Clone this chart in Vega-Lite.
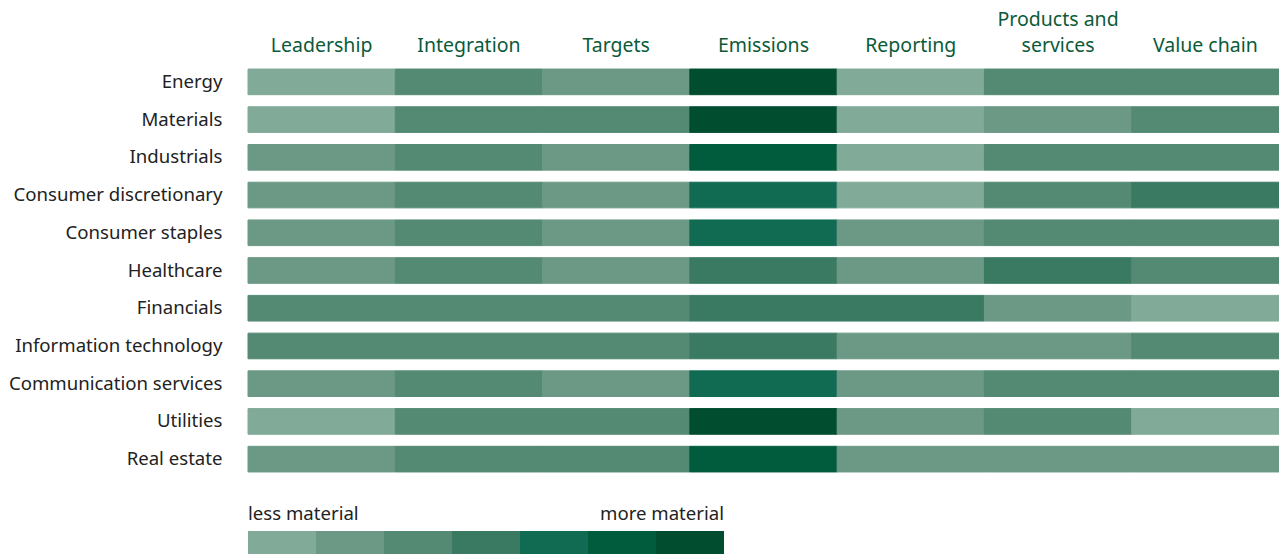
{
  "$schema": "https://vega.github.io/schema/vega-lite/v6.json",
  "padding": {"left": 8, "top": 9, "right": 0, "bottom": 0},
  "background": "white",
  "config": {
    "view": {"stroke": null},
    "font": "Noto Sans",
    "concat": {"spacing": 26}
  },
  "datasets": {
    "cells": [
      {"sector": "Energy", "factor": "Leadership", "level": 1},
      {"sector": "Energy", "factor": "Integration", "level": 3},
      {"sector": "Energy", "factor": "Targets", "level": 2},
      {"sector": "Energy", "factor": "Emissions", "level": 7},
      {"sector": "Energy", "factor": "Reporting", "level": 1},
      {"sector": "Energy", "factor": "Products and services", "level": 3},
      {"sector": "Energy", "factor": "Value chain", "level": 3},
      {"sector": "Materials", "factor": "Leadership", "level": 1},
      {"sector": "Materials", "factor": "Integration", "level": 3},
      {"sector": "Materials", "factor": "Targets", "level": 3},
      {"sector": "Materials", "factor": "Emissions", "level": 7},
      {"sector": "Materials", "factor": "Reporting", "level": 1},
      {"sector": "Materials", "factor": "Products and services", "level": 2},
      {"sector": "Materials", "factor": "Value chain", "level": 3},
      {"sector": "Industrials", "factor": "Leadership", "level": 2},
      {"sector": "Industrials", "factor": "Integration", "level": 3},
      {"sector": "Industrials", "factor": "Targets", "level": 2},
      {"sector": "Industrials", "factor": "Emissions", "level": 6},
      {"sector": "Industrials", "factor": "Reporting", "level": 1},
      {"sector": "Industrials", "factor": "Products and services", "level": 3},
      {"sector": "Industrials", "factor": "Value chain", "level": 3},
      {"sector": "Consumer discretionary", "factor": "Leadership", "level": 2},
      {"sector": "Consumer discretionary", "factor": "Integration", "level": 3},
      {"sector": "Consumer discretionary", "factor": "Targets", "level": 2},
      {"sector": "Consumer discretionary", "factor": "Emissions", "level": 5},
      {"sector": "Consumer discretionary", "factor": "Reporting", "level": 1},
      {"sector": "Consumer discretionary", "factor": "Products and services", "level": 3},
      {"sector": "Consumer discretionary", "factor": "Value chain", "level": 4},
      {"sector": "Consumer staples", "factor": "Leadership", "level": 2},
      {"sector": "Consumer staples", "factor": "Integration", "level": 3},
      {"sector": "Consumer staples", "factor": "Targets", "level": 2},
      {"sector": "Consumer staples", "factor": "Emissions", "level": 5},
      {"sector": "Consumer staples", "factor": "Reporting", "level": 2},
      {"sector": "Consumer staples", "factor": "Products and services", "level": 3},
      {"sector": "Consumer staples", "factor": "Value chain", "level": 3},
      {"sector": "Healthcare", "factor": "Leadership", "level": 2},
      {"sector": "Healthcare", "factor": "Integration", "level": 3},
      {"sector": "Healthcare", "factor": "Targets", "level": 2},
      {"sector": "Healthcare", "factor": "Emissions", "level": 4},
      {"sector": "Healthcare", "factor": "Reporting", "level": 2},
      {"sector": "Healthcare", "factor": "Products and services", "level": 4},
      {"sector": "Healthcare", "factor": "Value chain", "level": 3},
      {"sector": "Financials", "factor": "Leadership", "level": 3},
      {"sector": "Financials", "factor": "Integration", "level": 3},
      {"sector": "Financials", "factor": "Targets", "level": 3},
      {"sector": "Financials", "factor": "Emissions", "level": 4},
      {"sector": "Financials", "factor": "Reporting", "level": 4},
      {"sector": "Financials", "factor": "Products and services", "level": 2},
      {"sector": "Financials", "factor": "Value chain", "level": 1},
      {"sector": "Information technology", "factor": "Leadership", "level": 3},
      {"sector": "Information technology", "factor": "Integration", "level": 3},
      {"sector": "Information technology", "factor": "Targets", "level": 3},
      {"sector": "Information technology", "factor": "Emissions", "level": 4},
      {"sector": "Information technology", "factor": "Reporting", "level": 2},
      {"sector": "Information technology", "factor": "Products and services", "level": 2},
      {"sector": "Information technology", "factor": "Value chain", "level": 3},
      {"sector": "Communication services", "factor": "Leadership", "level": 2},
      {"sector": "Communication services", "factor": "Integration", "level": 3},
      {"sector": "Communication services", "factor": "Targets", "level": 2},
      {"sector": "Communication services", "factor": "Emissions", "level": 5},
      {"sector": "Communication services", "factor": "Reporting", "level": 2},
      {"sector": "Communication services", "factor": "Products and services", "level": 3},
      {"sector": "Communication services", "factor": "Value chain", "level": 3},
      {"sector": "Utilities", "factor": "Leadership", "level": 1},
      {"sector": "Utilities", "factor": "Integration", "level": 3},
      {"sector": "Utilities", "factor": "Targets", "level": 3},
      {"sector": "Utilities", "factor": "Emissions", "level": 7},
      {"sector": "Utilities", "factor": "Reporting", "level": 2},
      {"sector": "Utilities", "factor": "Products and services", "level": 3},
      {"sector": "Utilities", "factor": "Value chain", "level": 1},
      {"sector": "Real estate", "factor": "Leadership", "level": 2},
      {"sector": "Real estate", "factor": "Integration", "level": 3},
      {"sector": "Real estate", "factor": "Targets", "level": 3},
      {"sector": "Real estate", "factor": "Emissions", "level": 6},
      {"sector": "Real estate", "factor": "Reporting", "level": 2},
      {"sector": "Real estate", "factor": "Products and services", "level": 2},
      {"sector": "Real estate", "factor": "Value chain", "level": 2}
    ],
    "legend": [
      {"level": 1}, {"level": 2}, {"level": 3}, {"level": 4},
      {"level": 5}, {"level": 6}, {"level": 7}
    ]
  },
  "vconcat": [
    {
      "width": 1031,
      "height": 415,
      "data": {"name": "cells"},
      "mark": {"type": "rect", "strokeWidth": 1, "opacity": 1, "fillOpacity": 1, "strokeOpacity": 1},
      "encoding": {
        "x": {
          "field": "factor",
          "type": "nominal",
          "sort": ["Leadership", "Integration", "Targets", "Emissions", "Reporting", "Products and services", "Value chain"],
          "scale": {"paddingInner": 0, "paddingOuter": 0},
          "axis": {
            "orient": "top",
            "title": null,
            "domain": false,
            "ticks": false,
            "labelAngle": 0,
            "labelFontSize": 19.5,
            "labelColor": "#0b5a3a",
            "labelPadding": 34,
            "labelLineHeight": 26,
            "labelBaseline": "bottom",
            "labelExpr": "datum.value == 'Products and services' ? ['Products and', 'services'] : ['', datum.value]"
          }
        },
        "y": {
          "field": "sector",
          "type": "nominal",
          "sort": null,
          "scale": {"paddingInner": 0.32, "paddingOuter": 0.16},
          "axis": {
            "title": null,
            "domain": false,
            "ticks": false,
            "labelFontSize": 18.6,
            "labelColor": "#222222",
            "labelPadding": 26,
            "labelLimit": 400
          }
        },
        "color": {
          "field": "level",
          "type": "ordinal",
          "scale": {
            "domain": [1, 2, 3, 4, 5, 6, 7],
            "range": ["#82aa98", "#6b9985", "#548a73", "#3a7a63", "#116b52", "#005c3c", "#004d30"]
          },
          "legend": null
        },
        "stroke": {
          "field": "level",
          "type": "ordinal",
          "scale": {
            "domain": [1, 2, 3, 4, 5, 6, 7],
            "range": ["#82aa98", "#6b9985", "#548a73", "#3a7a63", "#116b52", "#005c3c", "#004d30"]
          },
          "legend": null
        }
      }
    },
    {
      "width": 476,
      "height": 23,
      "data": {"name": "legend"},
      "mark": {"type": "rect", "opacity": 1},
      "encoding": {
        "x": {
          "field": "level",
          "type": "ordinal",
          "scale": {"paddingInner": 0, "paddingOuter": 0},
          "axis": {
            "orient": "top",
            "title": null,
            "domain": false,
            "ticks": false,
            "labelAngle": 0,
            "labelFontSize": 18.6,
            "labelColor": "#222222",
            "labelPadding": 8,
            "labelExpr": "datum.value == 1 ? 'less material' : (datum.value == 7 ? 'more material' : '')",
            "labelAlign": {"condition": {"test": "datum.value == 1", "value": "left"}, "value": "right"},
            "labelOffset": {"condition": {"test": "datum.value == 1", "value": -34}, "value": 34}
          }
        },
        "color": {
          "field": "level",
          "type": "ordinal",
          "scale": {
            "domain": [1, 2, 3, 4, 5, 6, 7],
            "range": ["#82aa98", "#6b9985", "#548a73", "#3a7a63", "#116b52", "#005c3c", "#004d30"]
          },
          "legend": null
        }
      }
    }
  ]
}
